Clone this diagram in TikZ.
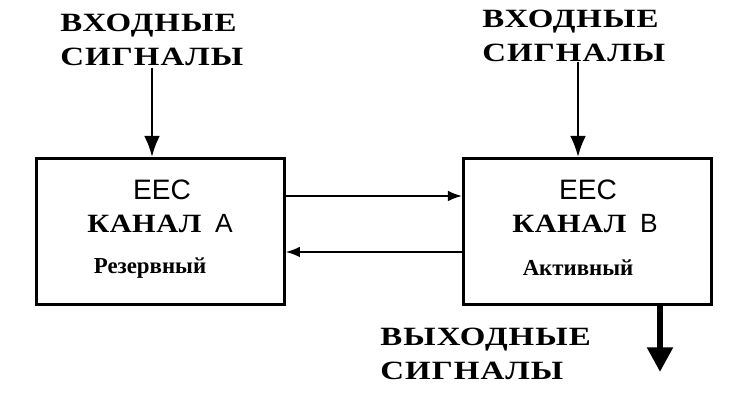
\documentclass[tikz,border=0pt]{standalone}
\usepackage{fontspec}
\setmainfont{Liberation Serif}
\setsansfont{Liberation Sans}
\newfontfamily\sigfont[LetterSpace=4,FakeStretch=1.25]{Liberation Serif}
\usetikzlibrary{arrows.meta,positioning}
\begin{document}
\begin{tikzpicture}[x=0.02cm,y=-0.02cm,
  block/.style={draw, line width=1.6pt, minimum width=4.96cm, minimum height=2.92cm, anchor=north west, inner sep=0pt},
  sig/.style={font=\sigfont\bfseries\fontsize{15}{19}\selectfont, align=left, inner sep=0pt},
  >={Latex[length=8pt,width=6pt]}]
\useasboundingbox (0,0) rectangle (746,408);

\node[block] (A) at (35,157) {};
\node[block] (B) at (462,157) {};

\node[font=\sffamily\fontsize{16}{16}\selectfont] (EA) at (162,190) {EEC};
\node[font=\fontsize{15}{16}\selectfont] (KA) at (160,224) {\textbf{\addfontfeature{LetterSpace=2,FakeStretch=1.15}КАНАЛ}\enspace\textsf{A}};
\node[font=\bfseries\fontsize{13}{14}\selectfont] (RA) at (150,268) {Резервный};

\node[font=\sffamily\fontsize{16}{16}\selectfont] (EB) at (588,190) {EEC};
\node[font=\fontsize{15}{16}\selectfont] (KB) at (585,224) {\textbf{\addfontfeature{LetterSpace=2,FakeStretch=1.15}КАНАЛ}\enspace\textsf{B}};
\node[font=\bfseries\fontsize{13}{14}\selectfont] (RB) at (578,268) {Активный};

\node[sig, anchor=north west] (inA) at (60,14) {ВХОДНЫЕ\\СИГНАЛЫ};
\node[sig, anchor=north west] (inB) at (482,10) {ВХОДНЫЕ\\СИГНАЛЫ};
\node[sig, anchor=north west] (out) at (380,328) {ВЫХОДНЫЕ\\СИГНАЛЫ};

\coordinate (a1) at (152,68);
\coordinate (b1) at (578,62);
\coordinate (o1) at (660,372);

\draw[-{Latex[length=12pt,width=9pt]}, line width=1.3pt] (a1) -- (a1 |- A.north);
\draw[-{Latex[length=12pt,width=9pt]}, line width=1.3pt] (b1) -- (b1 |- B.north);
\draw[->, line width=1pt] ([yshift=-0.78cm]A.north east) -- ([yshift=-0.78cm]B.north west);
\draw[->, line width=1pt] ([yshift=-1.9cm]B.north west) -- ([yshift=-1.9cm]A.north east);
\draw[-{Triangle[length=14pt,width=14pt]}, line width=3.5pt] (o1 |- B.south) -- (o1);
\end{tikzpicture}
\end{document}
